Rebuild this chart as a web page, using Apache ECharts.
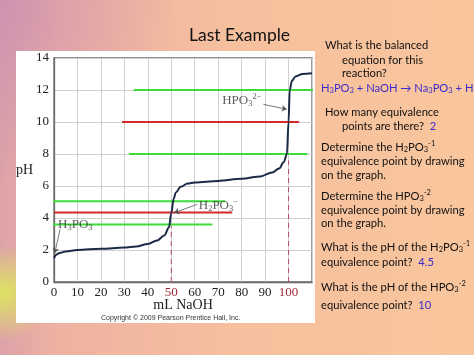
<!DOCTYPE html>
<html><head><meta charset="utf-8">
<script src="https://cdn.jsdelivr.net/npm/echarts@6/dist/echarts.min.js"></script>
<style>html,body{margin:0;padding:0;background:#f8c49c}#c{width:474px;height:355px}</style>
</head><body><div id="c"></div>
<script>
// Titration curve (mL NaOH vs pH)
const curveX = [0,1,2,5,10,20,30,35,40,44,47,49,50,51,52,54,57,60,70,80,88,93,96,98,99.3,100,100.5,101.5,103,106,110];
const curveY = [1.5,1.7,1.8,1.9,2.0,2.08,2.15,2.22,2.38,2.6,2.9,3.4,4.3,5.2,5.6,5.95,6.15,6.22,6.32,6.45,6.6,6.85,7.1,7.5,8.0,10.0,12.0,12.6,12.85,13.0,13.05];
// Drawn horizontal lines: [pH, xStart, xEnd]
const greenLines = [[12,34,114],[8,32,108],[5.05,-3,73],[3.6,-8,67.5]];
const redLines = [[10,29,104.5],[4.35,0,76]];
// Equivalence points (dashed): [x, pH top]
const eqPoints = [[50,3.5],[100,7.6]];
// Species labels: [x, pH, rich text]
const speciesLabels = [[1.5,3.6,'{n|H}{s|3}{n|PO}{s|3}'],[61.5,4.8,'{n|H}{s|2}{n|PO}{s|3}{p|−}'],[71.5,11.35,'{n|HPO}{s|3}{p|2−}']];
// Arrows: [[x1,y1],[x2,y2]]
const arrows = [[[2.6,3.3],[0.3,1.8]],[[61,4.85],[51.3,4.33]],[[89.3,11.1],[99.2,10.8]]];
const xTickRed = [50,100];

const chart = echarts.init(document.getElementById('c'));
const serif = '"Liberation Serif","DejaVu Serif",serif';
const sans = 'Lato,"Open Sans",sans-serif';
function hline(d,color){return {type:'line',data:[[d[1],d[0]],[d[2],d[0]]],symbol:'none',clip:false,silent:true,lineStyle:{color:color,width:2},z:4};}
const series = [];
greenLines.forEach(d=>series.push(hline(d,'#3ddc3a')));
redLines.forEach(d=>series.push(hline(d,'#d42a2a')));
eqPoints.forEach(p=>series.push({type:'line',data:[[p[0],0],[p[0],p[1]]],symbol:'none',silent:true,lineStyle:{color:'#b8505e',width:1,type:[5,4]},z:3}));
series.push({type:'line',data:curveX.map((x,i)=>[x,curveY[i]]),symbol:'none',smooth:0.35,smoothMonotone:'x',lineStyle:{color:'#1b2b48',width:2},z:5,
  markLine:{silent:true,symbol:['none','arrow'],symbolSize:5,label:{show:false},lineStyle:{color:'#555',width:0.8,type:'solid'},
    data:arrows.map(a=>[{coord:a[0]},{coord:a[1]}])}});
series.push({type:'scatter',data:speciesLabels.map(s=>({value:[s[0],s[1]],name:s[2]})),symbolSize:1,itemStyle:{color:'rgba(0,0,0,0)'},z:6,silent:true,
  label:{show:true,position:'right',distance:0,formatter:p=>p.name,
    rich:{n:{fontFamily:serif,fontSize:13,color:'#333',lineHeight:16},s:{fontFamily:serif,fontSize:8.5,color:'#333',lineHeight:9,verticalAlign:'bottom'},p:{fontFamily:serif,fontSize:8.5,color:'#333',lineHeight:9,verticalAlign:'top'}}}});

// Right-side text
const fs = 11.2, fss = 7.5;
const rich = {
  n:{fontFamily:sans,fontSize:fs,fill:'#111',lineHeight:14},
  s:{fontFamily:sans,fontSize:fss,fill:'#111',lineHeight:8,verticalAlign:'bottom'},
  p:{fontFamily:sans,fontSize:fss,fill:'#111',lineHeight:8,verticalAlign:'top'},
  b:{fontFamily:sans,fontSize:fs,fill:'#3a2cc8',lineHeight:14},
  bs:{fontFamily:sans,fontSize:fss,fill:'#3a2cc8',lineHeight:8,verticalAlign:'bottom'}
};
const textLines = [
  [325,45,'{n|What is the balanced}'],
  [342,60,'{n|equation for this}'],
  [342,73,'{n|reaction?}'],
  [321,88,'{b|H}{bs|3}{b|PO}{bs|3}{b| + NaOH → Na}{bs|3}{b|PO}{bs|3}{b| + HOH}'],
  [325,112,'{n|How many equivalence}'],
  [342,126,'{n|points are there?  }{b|2}'],
  [321,147,'{n|Determine the H}{s|2}{n|PO}{s|3}{p|-1}'],
  [321,161,'{n|equivalence point by drawing}'],
  [321,175,'{n|on the graph.}'],
  [321,196,'{n|Determine the HPO}{s|3}{p|-2}'],
  [321,210,'{n|equivalence point by drawing}'],
  [321,223,'{n|on the graph.}'],
  [321,247,'{n|What is the pH of the H}{s|2}{n|PO}{s|3}{p|-1}'],
  [321,262,'{n|equivalence point?  }{b|4.5}'],
  [321,287,'{n|What is the pH of the HPO}{s|3}{p|-2}'],
  [321,305,'{n|equivalence point?  }{b|10}']
];
const graphics = [
  {type:'rect',shape:{x:0,y:0,width:474,height:355},z:-20,silent:true,style:{fill:{type:'linear',x:0,y:0,x2:1,y2:0,colorStops:[{offset:0,color:'#dca2a8'},{offset:0.12,color:'#eeb2a2'},{offset:0.5,color:'#f6c09e'},{offset:1,color:'#f9c69d'}]}}},
  {type:'rect',shape:{x:0,y:0,width:474,height:355},z:-19,silent:true,style:{fill:{type:'radial',x:0,y:0,r:0.5,colorStops:[{offset:0,color:'rgba(200,140,180,0.7)'},{offset:1,color:'rgba(200,140,180,0)'}]}}},
  {type:'rect',shape:{x:0,y:200,width:80,height:155},z:-18,silent:true,style:{fill:{type:'radial',x:0.05,y:0.6,r:0.6,colorStops:[{offset:0,color:'rgba(220,235,90,0.9)'},{offset:1,color:'rgba(220,235,90,0)'}]}}},
  {type:'rect',shape:{x:16,y:51,width:299,height:272},z:-10,silent:true,style:{fill:'#ffffff'}},
  {type:'text',x:189,y:35,z:10,style:{text:'Last Example',fontFamily:sans,fontSize:17.5,fill:'#111',textVerticalAlign:'middle',verticalAlign:'middle'}},
  {type:'text',x:101,y:318,z:10,style:{text:'Copyright © 2009 Pearson Prentice Hall, Inc.',fontFamily:'"Liberation Sans",Arial,sans-serif',fontSize:7,fill:'#333',textVerticalAlign:'middle',verticalAlign:'middle'}}
];
textLines.forEach(t=>graphics.push({type:'text',x:t[0],y:t[1],z:10,style:{text:t[2],rich:rich,textVerticalAlign:'middle',verticalAlign:'middle'}}));

chart.setOption({
  animation:false,
  grid:{left:54,right:162,top:58,bottom:73,show:true,borderColor:'#6b6b6b',borderWidth:1.3,backgroundColor:'#fff'},
  xAxis:{type:'value',min:0,max:110,interval:10,name:'mL NaOH',nameLocation:'middle',nameGap:16,nameMoveOverlap:false,
    nameTextStyle:{fontFamily:serif,fontSize:14,color:'#222'},
    axisLine:{lineStyle:{color:'#6b6b6b',width:1.3}},axisTick:{show:false},
    splitLine:{lineStyle:{color:'#cfcfcf',width:1}},
    axisLabel:{margin:4,showMaxLabel:false,fontFamily:serif,fontSize:13,color:'#222',
      formatter:v=>v===110?'':(xTickRed.indexOf(v)>=0?'{r|'+v+'}':String(v)),rich:{r:{fontFamily:serif,fontSize:13,color:'#a3283c'}}}},
  yAxis:{type:'value',min:0,max:14,interval:2,name:'pH',nameLocation:'middle',nameGap:21,nameRotate:0,nameMoveOverlap:false,
    nameTextStyle:{fontFamily:serif,fontSize:14,color:'#222'},
    axisLine:{show:true,lineStyle:{color:'#6b6b6b',width:1.3}},axisTick:{show:false},
    splitLine:{lineStyle:{color:'#cfcfcf',width:1}},
    axisLabel:{margin:5,fontFamily:serif,fontSize:13,color:'#222'}},
  graphic:graphics,
  series:series
});
</script></body></html>
